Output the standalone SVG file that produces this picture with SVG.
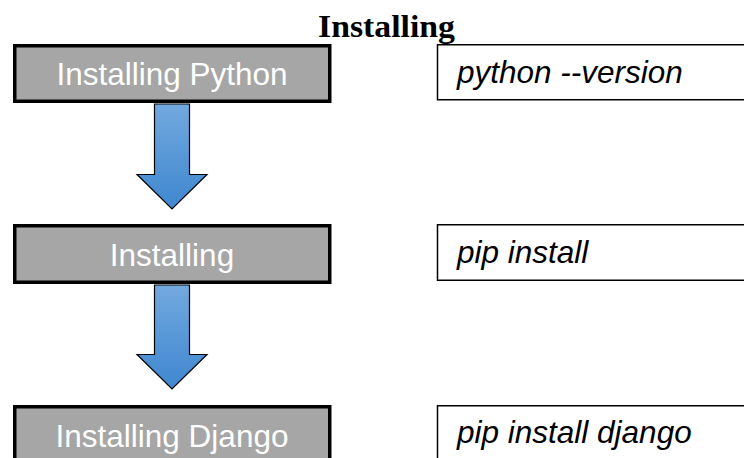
<svg xmlns="http://www.w3.org/2000/svg" width="744" height="458" viewBox="0 0 744 458">
<defs>
<style>
.step rect{fill:#a6a6a6;stroke:#000;stroke-width:3.5}
.step text{fill:#fff;font-family:"Liberation Sans",Arial,sans-serif;font-size:31.5px;text-anchor:middle}
.cmd rect{fill:#fff;stroke:#000;stroke-width:1.5}
.cmd text{fill:#000;font-family:"Liberation Sans",Arial,sans-serif;font-size:31.5px;font-style:italic}
.title{font-family:"Liberation Serif","Times New Roman",serif;font-weight:bold;font-size:31px;fill:#000}
.arrow{fill:url(#blue);stroke:#000;stroke-width:1.2;stroke-linejoin:miter}
</style>
<linearGradient id="blue" x1="0" y1="0" x2="0" y2="1">
<stop offset="0" stop-color="#72a9df"/>
<stop offset="1" stop-color="#3f87cf"/>
</linearGradient>
</defs>
<rect width="744" height="458" fill="#fff"/>
<text class="title" x="318" y="37" textLength="137" lengthAdjust="spacingAndGlyphs">Installing</text>
<g id="connectors">
<path class="arrow" d="M154.5,104 L189.5,104 L189.5,174.5 L207,174.5 L172,209 L137,174.5 L154.5,174.5 Z"/>
<path class="arrow" d="M154.5,285 L189.5,285 L189.5,354.5 L207,354.5 L172,389 L137,354.5 L154.5,354.5 Z"/>
</g>
<g id="step1" class="step"><rect x="14.75" y="45.75" width="315" height="55.5"/><text x="172" y="85">Installing Python</text></g>
<g id="step2" class="step"><rect x="14.75" y="225.75" width="315" height="56.5"/><text x="172" y="266">Installing</text></g>
<g id="step3" class="step"><rect x="14.75" y="406.75" width="315" height="60"/><text x="172" y="447">Installing Django</text></g>
<g id="cmd1" class="cmd"><rect x="437.5" y="44.75" width="320" height="55"/><text x="457" y="83">python --version</text></g>
<g id="cmd2" class="cmd"><rect x="437.5" y="224.75" width="320" height="55.5"/><text x="457" y="263">pip install</text></g>
<g id="cmd3" class="cmd"><rect x="437.5" y="405.75" width="320" height="60"/><text x="457" y="443">pip install django</text></g>
</svg>
